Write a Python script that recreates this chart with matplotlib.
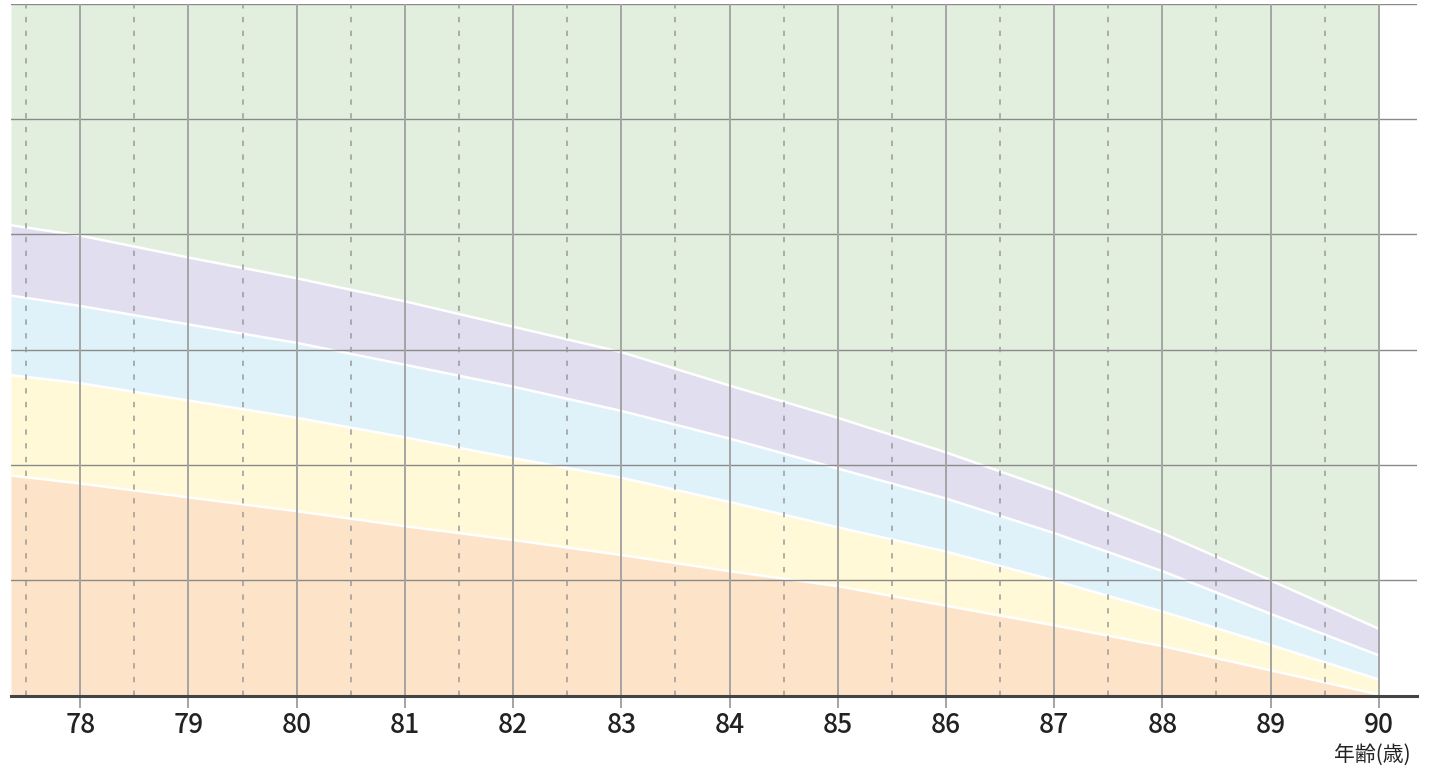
"""
Stacked age bands chart (年齢 78-90) recreated with matplotlib.
"""

import matplotlib
matplotlib.use('Agg')
import matplotlib.pyplot as plt
import numpy as np

plt.rcParams['font.family'] = ['Noto Sans CJK JP', 'DejaVu Sans']

# Ages (x) and the four boundary curves (grid units 0-6).
ages = [77.36, 78, 79, 80, 81, 82, 83, 84, 85, 86, 87, 88, 89, 90]
upper_purple = [4.08, 3.99, 3.80, 3.62, 3.42, 3.20, 2.98, 2.69, 2.41, 2.11, 1.78, 1.41, 1.00, 0.58]
upper_blue = [3.47, 3.38, 3.22, 3.06, 2.87, 2.68, 2.47, 2.23, 1.97, 1.71, 1.41, 1.08, 0.71, 0.35]
upper_yellow = [2.78, 2.71, 2.56, 2.41, 2.24, 2.06, 1.89, 1.68, 1.46, 1.25, 1.00, 0.73, 0.44, 0.14]
upper_orange = [1.91, 1.84, 1.72, 1.60, 1.47, 1.35, 1.22, 1.08, 0.95, 0.78, 0.61, 0.43, 0.22, 0.01]
tick_ages = list(range(78, 91))
y_max = 6

colors = {
    'green': '#E3EFDE',
    'purple': '#E0DEEF',
    'blue': '#DFF2FA',
    'yellow': '#FFF9D7',
    'orange': '#FDE3C8',
}


def main():
    fig = plt.figure(figsize=(14.31, 7.76), dpi=100)
    ax = fig.add_axes([0.0077, 0.1035, 0.9823, 0.8915])

    x = np.array(ages)
    top = np.full(len(x), y_max)
    zero = np.zeros(len(x))

    # Bands, from the bottom up.
    ax.fill_between(x, zero, upper_orange, color=colors['orange'], lw=0, zorder=1)
    ax.fill_between(x, upper_orange, upper_yellow, color=colors['yellow'], lw=0, zorder=1)
    ax.fill_between(x, upper_yellow, upper_blue, color=colors['blue'], lw=0, zorder=1)
    ax.fill_between(x, upper_blue, upper_purple, color=colors['purple'], lw=0, zorder=1)
    ax.fill_between(x, upper_purple, top, color=colors['green'], lw=0, zorder=1)

    # White boundary lines between the bands.
    for curve in (upper_orange, upper_yellow, upper_blue, upper_purple):
        ax.plot(x, curve, color='white', lw=1.8, zorder=2)

    ax.set_xlim(77.36, 90.35)
    ax.set_ylim(0, y_max)

    # Grid: horizontal lines every unit, solid lines at whole ages, dashed at half ages.
    for yv in range(1, y_max + 1):
        ax.axhline(yv, color='#8a8a8a', lw=1.0, zorder=3)
    for a in tick_ages:
        ax.axvline(a, color='#a4a4a4', lw=1.4, zorder=3)
    for a in np.arange(77.5, 90, 1.0):
        ax.axvline(a, color='#9a9a9a', lw=1.1, ls=(0, (3.5, 5.5)), zorder=3)

    for side in ('top', 'right', 'left'):
        ax.spines[side].set_visible(False)
    ax.spines['bottom'].set_color('#444444')
    ax.spines['bottom'].set_linewidth(2.2)
    ax.spines['bottom'].set_zorder(4)

    ax.set_yticks([])
    ax.set_xticks(tick_ages)
    ax.set_xticklabels([str(a) for a in tick_ages], fontsize=19,
                       fontweight='medium', color='#222222')
    ax.tick_params(axis='x', direction='out', length=8.5, width=1.4,
                   color='#a4a4a4', pad=3)

    fig.text(0.9855, 0.027, '年齢(歳)', ha='right', va='center',
             fontsize=15, color='#222222')

    fig.savefig('out.png', dpi=100)


if __name__ == '__main__':
    main()
